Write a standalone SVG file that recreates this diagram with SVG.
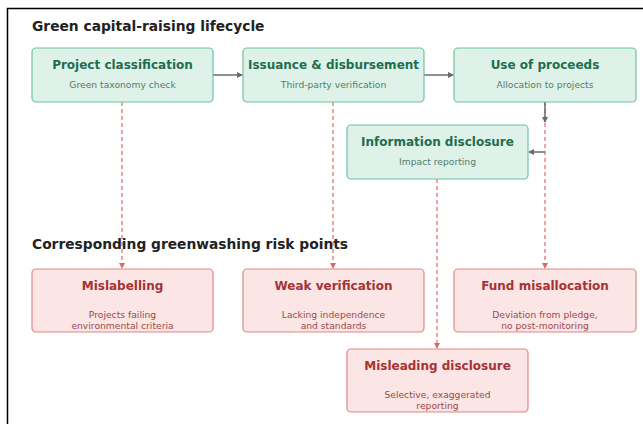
<svg xmlns="http://www.w3.org/2000/svg" width="643" height="424" viewBox="0 0 643 424">
<style>
.frame{fill:#fff;stroke:#000;stroke-width:1.5}
.h{font-family:"DejaVu Sans",sans-serif;font-weight:bold;font-size:13.8px;fill:#222}
.g rect{fill:#dff2ea;stroke:#6dc3a0;stroke-width:1.2}
.r rect{fill:#fbe5e5;stroke:#e08787;stroke-width:1.2}
.t{font-family:"DejaVu Sans",sans-serif;font-weight:bold;font-size:12px;text-anchor:middle}
.s{font-family:"DejaVu Sans",sans-serif;font-size:9.2px;text-anchor:middle}
.g .t{fill:#1d6e4e}
.g .s{fill:#4f7e6b}
.r .t{fill:#a83232}
.r .s{fill:#a04848}
.flow{fill:none;stroke:#6b6b6b;stroke-width:1.5}
.risk{fill:none;stroke:#e06a6a;stroke-width:1.2;stroke-dasharray:4 3}
</style>
<defs>
<marker id="ag" markerWidth="6" markerHeight="6" refX="5" refY="3" orient="auto" markerUnits="userSpaceOnUse"><path d="M0,0 L6,3 L0,6 Z" fill="#6b6b6b"/></marker>
<marker id="ar" markerWidth="6" markerHeight="6" refX="5" refY="3" orient="auto" markerUnits="userSpaceOnUse"><path d="M0,0 L6,3 L0,6 Z" fill="#e06a6a"/></marker>
</defs>
<rect class="frame" x="7.5" y="8.5" width="700" height="500"/>
<text class="h" x="32" y="31">Green capital-raising lifecycle</text>
<text class="h" x="32" y="249">Corresponding greenwashing risk points</text>
<g id="connectors">
<path class="risk" d="M122,102 V268" marker-end="url(#ar)"/>
<path class="risk" d="M333,102 V268" marker-end="url(#ar)"/>
<path class="risk" d="M545,102 V268" marker-end="url(#ar)"/>
<path class="risk" d="M437,179 V348" marker-end="url(#ar)"/>
<path class="flow" d="M213,75 H242" marker-end="url(#ag)"/>
<path class="flow" d="M424,75 H453" marker-end="url(#ag)"/>
<path class="flow" d="M545,102 V122" marker-end="url(#ag)"/>
<path class="flow" d="M545,152 H529" marker-end="url(#ag)"/>
</g>
<g id="project-classification" class="g"><rect x="32" y="48" width="181" height="54" rx="4"/><text class="t" x="122.5" y="69">Project classification</text><text class="s" x="122.5" y="88">Green taxonomy check</text></g>
<g id="issuance" class="g"><rect x="243" y="48" width="181" height="54" rx="4"/><text class="t" x="333.5" y="69">Issuance &amp; disbursement</text><text class="s" x="333.5" y="88">Third-party verification</text></g>
<g id="use-of-proceeds" class="g"><rect x="454" y="48" width="182" height="54" rx="4"/><text class="t" x="545" y="69">Use of proceeds</text><text class="s" x="545" y="88">Allocation to projects</text></g>
<g id="information-disclosure" class="g"><rect x="347" y="125" width="181" height="54" rx="4"/><text class="t" x="437.5" y="146">Information disclosure</text><text class="s" x="437.5" y="165">Impact reporting</text></g>
<g id="mislabelling" class="r"><rect x="32" y="269" width="181" height="63" rx="4"/><text class="t" x="122.5" y="290">Mislabelling</text><text class="s" x="122.5" y="318">Projects failing</text><text class="s" x="122.5" y="329">environmental criteria</text></g>
<g id="weak-verification" class="r"><rect x="243" y="269" width="181" height="63" rx="4"/><text class="t" x="333.5" y="290">Weak verification</text><text class="s" x="333.5" y="318">Lacking independence</text><text class="s" x="333.5" y="329">and standards</text></g>
<g id="fund-misallocation" class="r"><rect x="454" y="269" width="182" height="63" rx="4"/><text class="t" x="545" y="290">Fund misallocation</text><text class="s" x="545" y="318">Deviation from pledge,</text><text class="s" x="545" y="329">no post-monitoring</text></g>
<g id="misleading-disclosure" class="r"><rect x="347" y="349" width="181" height="63" rx="4"/><text class="t" x="437.5" y="370">Misleading disclosure</text><text class="s" x="437.5" y="398">Selective, exaggerated</text><text class="s" x="437.5" y="409">reporting</text></g>
</svg>
